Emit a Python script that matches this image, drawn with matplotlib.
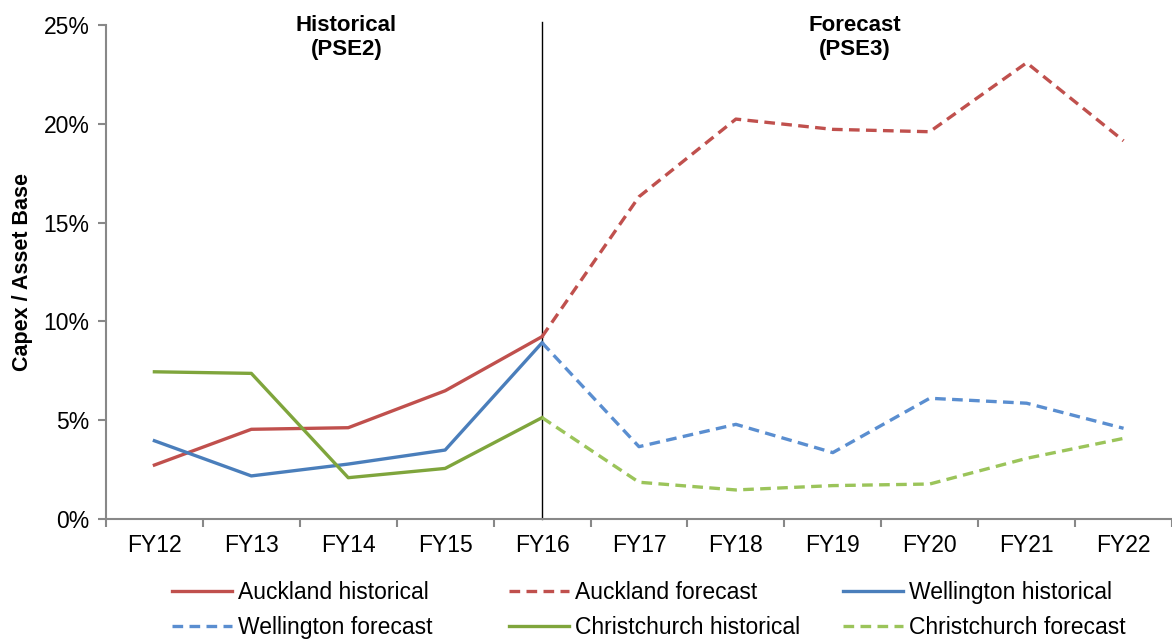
import matplotlib
matplotlib.use("Agg")
import matplotlib.pyplot as plt
from matplotlib.ticker import FixedLocator, FuncFormatter

plt.rcParams["font.family"] = ["Liberation Sans", "DejaVu Sans"]

# Data (Capex / Asset Base, %)
years = ["FY12", "FY13", "FY14", "FY15", "FY16", "FY17", "FY18", "FY19", "FY20", "FY21", "FY22"]
hist_years = years[:5]
fc_years = years[4:]

auckland_hist = [2.73, 4.54, 4.62, 6.49, 9.23]
auckland_fc = [9.23, 16.31, 20.24, 19.72, 19.60, 23.09, 19.14]
wellington_hist = [3.96, 2.18, 2.78, 3.49, 8.92]
wellington_fc = [8.92, 3.66, 4.79, 3.36, 6.11, 5.86, 4.59]
christchurch_hist = [7.45, 7.37, 2.09, 2.56, 5.13]
christchurch_fc = [5.13, 1.86, 1.47, 1.69, 1.77, 3.07, 4.08]

red = "#C0504D"
blue = "#4A7EBB"
blue_fc = "#5A8ED0"
green = "#7FA53C"
green_fc = "#9BC45A"

fig = plt.figure(figsize=(11.72, 6.42), dpi=100)
ax = fig.add_axes([0.0904, 0.1916, 0.9096, 0.7694])

xh = [years.index(y) for y in hist_years]
xf = [years.index(y) for y in fc_years]
lw = 2.4
dash = (0, (3.2, 1.9))

l_ah, = ax.plot(xh, auckland_hist, color=red, lw=lw, label="Auckland historical")
l_af, = ax.plot(xf, auckland_fc, color=red, lw=lw, ls=dash, label="Auckland forecast")
l_wh, = ax.plot(xh, wellington_hist, color=blue, lw=lw, label="Wellington historical")
l_wf, = ax.plot(xf, wellington_fc, color=blue_fc, lw=lw, ls=dash, label="Wellington forecast")
l_ch, = ax.plot(xh, christchurch_hist, color=green, lw=lw, label="Christchurch historical")
l_cf, = ax.plot(xf, christchurch_fc, color=green_fc, lw=lw, ls=dash, label="Christchurch forecast")

# divider between historical and forecast
ax.plot([4, 4], [0, 25.15], color="black", lw=1, clip_on=False, zorder=1)

ax.set_xlim(-0.5, len(years) - 0.5)
ax.set_ylim(0, 25)

ax.set_xticks(range(len(years)))
ax.set_xticklabels(years, fontsize=16.5)
ax.xaxis.set_minor_locator(FixedLocator([i + 0.5 for i in range(-1, len(years))]))
ax.tick_params(axis="x", which="major", length=0, pad=11)
ax.tick_params(axis="x", which="minor", length=6, color="#888888", width=1.5)

ax.set_yticks([0, 5, 10, 15, 20, 25])
ax.yaxis.set_major_formatter(FuncFormatter(lambda v, p: f"{v:.0f}%"))
ax.tick_params(axis="y", labelsize=16.5, length=6, color="#888888", width=1.5, pad=6)

for s in ["top", "right"]:
    ax.spines[s].set_visible(False)
for s in ["left", "bottom"]:
    ax.spines[s].set_color("#888888")
    ax.spines[s].set_linewidth(1.5)

fig.text(0.019, 0.576, "Capex / Asset Base", rotation=90, fontsize=15.5,
         fontweight="bold", ha="center", va="center")

ax.text(1.98, 24.35, "Historical\n(PSE2)", ha="center", va="center",
        fontsize=16, fontweight="bold", linespacing=1.2)
ax.text(7.23, 24.35, "Forecast\n(PSE3)", ha="center", va="center",
        fontsize=16, fontweight="bold", linespacing=1.2)

# legend: three equal-width columns, two rows
columns = [[l_ah, l_wf], [l_af, l_ch], [l_wh, l_cf]]
col_left = [172, 509, 843]
for hs, x0 in zip(columns, col_left):
    fig.legend(hs, [h.get_label() for h in hs], ncol=1,
               loc="center left", bbox_to_anchor=(x0 / 1172, 1 - 610 / 642),
               frameon=False, borderpad=0, borderaxespad=0,
               fontsize=16.5, handlelength=2.6, handletextpad=0.3,
               labelspacing=0.5)

fig.savefig("out.png", dpi=100)
